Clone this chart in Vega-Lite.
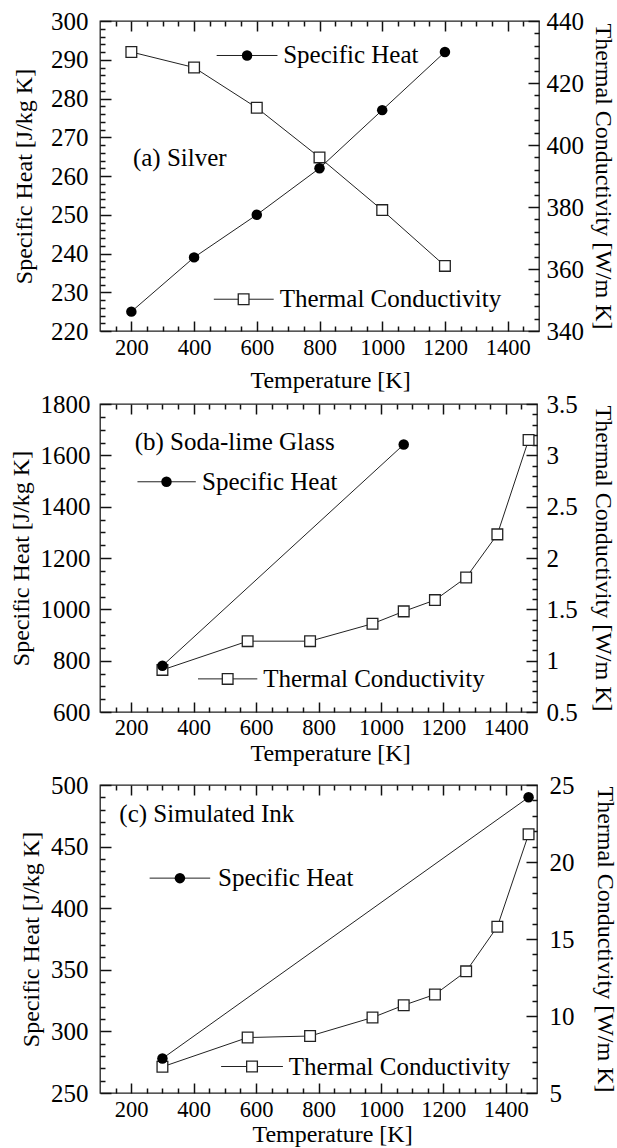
{
  "$schema": "https://vega.github.io/schema/vega-lite/v6.json",
  "background": "white",
  "padding": {"top": 8, "left": 8, "right": 0, "bottom": 0},
  "bounds": "flush",
  "spacing": 73,
  "config": {
    "font": "Liberation Serif",
    "view": {"stroke": "#222", "strokeWidth": 1.3},
    "axis": {
      "grid": false, "domain": false, "ticks": true,
      "tickColor": "#111", "tickWidth": 1.5, "tickOpacity": 1,
      "labelFont": "Liberation Serif", "labelFontSize": 22.5, "labelColor": "#000",
      "titleFont": "Liberation Serif", "titleFontSize": 24, "titleFontWeight": "normal", "titleColor": "#000",
      "labelFlush": false, "labelOverlap": false, "labelBound": false
    },
    "axisY": {"labelFontSize": 25},
    "text": {"font": "Liberation Serif", "fontSize": 25, "color": "#000", "align": "left", "baseline": "middle"}
  },
  "datasets": {
    "silverCp": [{"T":200,"v":225},{"T":400,"v":239},{"T":600,"v":250},{"T":800,"v":262},{"T":1000,"v":277},{"T":1200,"v":292}],
    "silverK": [{"T":200,"v":430},{"T":400,"v":425},{"T":600,"v":412},{"T":800,"v":396},{"T":1000,"v":379},{"T":1200,"v":361}],
    "silverKeys": [
      {"key":"cp","name":"Specific Heat","t0":472,"t1":666,"tm":569,"tt":684,"y":291.1},
      {"key":"k","name":"Thermal Conductivity","t0":463,"t1":654,"tm":558,"tt":673,"y":228.2}
    ],
    "silverTag": [{"name":"(a) Silver","tt":205,"y":264.7}],
    "glassCp": [{"T":300,"v":780},{"T":1073,"v":1642}],
    "glassK": [{"T":300,"v":0.91},{"T":573,"v":1.19},{"T":773,"v":1.19},{"T":973,"v":1.36},{"T":1073,"v":1.48},{"T":1173,"v":1.59},{"T":1273,"v":1.81},{"T":1373,"v":2.23},{"T":1473,"v":3.15}],
    "glassKeys": [
      {"key":"cp","name":"Specific Heat","t0":220,"t1":407,"tm":313,"tt":427,"y":1497},
      {"key":"k","name":"Thermal Conductivity","t0":414,"t1":604,"tm":509,"tt":623,"y":729}
    ],
    "glassTag": [{"name":"(b) Soda-lime Glass","tt":211,"y":1653}],
    "inkCp": [{"T":300,"v":278},{"T":1473,"v":490}],
    "inkK": [{"T":300,"v":6.7},{"T":573,"v":8.6},{"T":773,"v":8.7},{"T":973,"v":9.9},{"T":1073,"v":10.7},{"T":1173,"v":11.4},{"T":1273,"v":12.9},{"T":1373,"v":15.8},{"T":1473,"v":21.8}],
    "inkKeys": [
      {"key":"cp","name":"Specific Heat","t0":259,"t1":453,"tm":356,"tt":478,"y":424.4},
      {"key":"k","name":"Thermal Conductivity","t0":488,"t1":686,"tm":587,"tt":705,"y":271.5}
    ],
    "inkTag": [{"name":"(c) Simulated Ink","tt":162,"y":476.3}]
  },
  "vconcat": [
    {
      "width": 439, "height": 310,
      "layer": [
        {
          "layer": [
            {
              "data": {"name": "silverK"},
              "mark": {"type": "line", "color": "#222", "strokeWidth": 1},
              "encoding": {
                "x": {"field": "T", "type": "quantitative", "scale": {"domain": [100, 1500], "nice": false, "zero": false}, "axis": null},
                "y": {"field": "v", "type": "quantitative", "scale": {"domain": [340, 440], "nice": false, "zero": false},
                  "axis": {"orient": "right", "values": [340, 360, 380, 400, 420, 440], "format": "d", "offset": -11, "tickSize": 11, "labelPadding": 7, "title": "Thermal Conductivity [W/m K]", "titlePadding": 7}}
              }
            },
            {
              "data": {"name": "silverK"},
              "mark": {"type": "point", "shape": "square", "size": 115, "filled": false, "fill": "white", "fillOpacity": 1, "stroke": "#222", "strokeWidth": 1.3, "opacity": 1},
              "encoding": {
                "x": {"field": "T", "type": "quantitative", "scale": {"domain": [100, 1500], "nice": false, "zero": false}, "axis": null},
                "y": {"field": "v", "type": "quantitative", "scale": {"domain": [340, 440], "nice": false, "zero": false},
                  "axis": {"orient": "right", "values": [344,348,352,356,364,368,372,376,384,388,392,396,404,408,412,416,424,428,432,436], "labels": false, "offset": -5, "tickSize": 5, "title": null}}
              }
            }
          ],
          "resolve": {"axis": {"x": "independent", "y": "independent"}}
        },
        {
          "layer": [
            {
              "data": {"name": "silverCp"},
              "mark": {"type": "line", "color": "#222", "strokeWidth": 1},
              "encoding": {
                "x": {"field": "T", "type": "quantitative", "scale": {"domain": [100, 1500], "nice": false, "zero": false},
                  "axis": {"orient": "bottom", "values": [200, 400, 600, 800, 1000, 1200, 1400], "format": "d", "offset": -10, "tickSize": 10, "labelPadding": 5, "title": "Temperature [K]", "titlePadding": 10, "titleX": 230}},
                "y": {"field": "v", "type": "quantitative", "scale": {"domain": [220, 300], "nice": false, "zero": false},
                  "axis": {"orient": "left", "values": [220, 230, 240, 250, 260, 270, 280, 290, 300], "format": "d", "offset": -11, "tickSize": 11, "labelPadding": 12, "title": "Specific Heat [J/kg K]", "titlePadding": 14}}
              }
            },
            {
              "data": {"name": "silverCp"},
              "mark": {"type": "point", "shape": "circle", "size": 110, "filled": true, "color": "#000", "opacity": 1},
              "encoding": {
                "x": {"field": "T", "type": "quantitative", "scale": {"domain": [100, 1500], "nice": false, "zero": false},
                  "axis": {"orient": "bottom", "values": [150,250,300,350,450,500,550,650,700,750,850,900,950,1050,1100,1150,1250,1300,1350,1450], "labels": false, "offset": -5, "tickSize": 5, "title": null}},
                "y": {"field": "v", "type": "quantitative", "scale": {"domain": [220, 300], "nice": false, "zero": false},
                  "axis": {"orient": "left", "values": [222,224,226,228,232,234,236,238,242,244,246,248,252,254,256,258,262,264,266,268,272,274,276,278,282,284,286,288,292,294,296,298], "labels": false, "offset": -5, "tickSize": 5, "title": null}}
              }
            },
            {
              "data": {"name": "silverKeys"},
              "mark": {"type": "rule", "color": "#222", "strokeWidth": 1},
              "encoding": {
                "x": {"field": "t0", "type": "quantitative", "scale": {"domain": [100, 1500], "nice": false, "zero": false},
                  "axis": {"orient": "top", "values": [200, 400, 600, 800, 1000, 1200, 1400], "labels": false, "offset": -10, "tickSize": 10, "title": null}},
                "x2": {"field": "t1"},
                "y": {"field": "y", "type": "quantitative", "scale": {"domain": [220, 300], "nice": false, "zero": false}, "axis": null}
              }
            },
            {
              "data": {"name": "silverKeys"},
              "transform": [{"filter": "datum.key === 'cp'"}],
              "mark": {"type": "point", "shape": "circle", "size": 110, "filled": true, "color": "#000", "opacity": 1},
              "encoding": {
                "x": {"field": "tm", "type": "quantitative", "scale": {"domain": [100, 1500], "nice": false, "zero": false},
                  "axis": {"orient": "top", "values": [150,250,300,350,450,500,550,650,700,750,850,900,950,1050,1100,1150,1250,1300,1350,1450], "labels": false, "offset": -5, "tickSize": 5, "title": null}},
                "y": {"field": "y", "type": "quantitative", "scale": {"domain": [220, 300], "nice": false, "zero": false}, "axis": null}
              }
            },
            {
              "data": {"name": "silverKeys"},
              "transform": [{"filter": "datum.key === 'k'"}],
              "mark": {"type": "point", "shape": "square", "size": 115, "filled": false, "fill": "white", "fillOpacity": 1, "stroke": "#222", "strokeWidth": 1.3, "opacity": 1},
              "encoding": {
                "x": {"field": "tm", "type": "quantitative", "scale": {"domain": [100, 1500], "nice": false, "zero": false}, "axis": null},
                "y": {"field": "y", "type": "quantitative", "scale": {"domain": [220, 300], "nice": false, "zero": false}, "axis": null}
              }
            },
            {
              "data": {"name": "silverKeys"},
              "mark": {"type": "text"},
              "encoding": {
                "x": {"field": "tt", "type": "quantitative", "scale": {"domain": [100, 1500], "nice": false, "zero": false}, "axis": null},
                "y": {"field": "y", "type": "quantitative", "scale": {"domain": [220, 300], "nice": false, "zero": false}, "axis": null},
                "text": {"field": "name"}
              }
            },
            {
              "data": {"name": "silverTag"},
              "mark": {"type": "text"},
              "encoding": {
                "x": {"field": "tt", "type": "quantitative", "scale": {"domain": [100, 1500], "nice": false, "zero": false}, "axis": null},
                "y": {"field": "y", "type": "quantitative", "scale": {"domain": [220, 300], "nice": false, "zero": false}, "axis": null},
                "text": {"field": "name"}
              }
            }
          ],
          "resolve": {"axis": {"x": "independent", "y": "independent"}}
        }
      ],
      "resolve": {"scale": {"y": "independent"}, "axis": {"x": "independent", "y": "independent"}}
    },
    {
      "width": 437, "height": 308,
      "layer": [
        {
          "layer": [
            {
              "data": {"name": "glassK"},
              "mark": {"type": "line", "color": "#222", "strokeWidth": 1},
              "encoding": {
                "x": {"field": "T", "type": "quantitative", "scale": {"domain": [100, 1500], "nice": false, "zero": false}, "axis": null},
                "y": {"field": "v", "type": "quantitative", "scale": {"domain": [0.5, 3.5], "nice": false, "zero": false},
                  "axis": {"orient": "right", "values": [0.5, 1, 1.5, 2, 2.5, 3, 3.5], "format": "~g", "offset": -11, "tickSize": 11, "labelPadding": 9, "title": "Thermal Conductivity [W/m K]", "titlePadding": 13}}
              }
            },
            {
              "data": {"name": "glassK"},
              "mark": {"type": "point", "shape": "square", "size": 115, "filled": false, "fill": "white", "fillOpacity": 1, "stroke": "#222", "strokeWidth": 1.3, "opacity": 1},
              "encoding": {
                "x": {"field": "T", "type": "quantitative", "scale": {"domain": [100, 1500], "nice": false, "zero": false}, "axis": null},
                "y": {"field": "v", "type": "quantitative", "scale": {"domain": [0.5, 3.5], "nice": false, "zero": false},
                  "axis": {"orient": "right", "values": [0.6,0.7,0.8,0.9,1.1,1.2,1.3,1.4,1.6,1.7,1.8,1.9,2.1,2.2,2.3,2.4,2.6,2.7,2.8,2.9,3.1,3.2,3.3,3.4], "labels": false, "offset": -5, "tickSize": 5, "title": null}}
              }
            }
          ],
          "resolve": {"axis": {"x": "independent", "y": "independent"}}
        },
        {
          "layer": [
            {
              "data": {"name": "glassCp"},
              "mark": {"type": "line", "color": "#222", "strokeWidth": 1},
              "encoding": {
                "x": {"field": "T", "type": "quantitative", "scale": {"domain": [100, 1500], "nice": false, "zero": false},
                  "axis": {"orient": "bottom", "values": [200, 400, 600, 800, 1000, 1200, 1400], "format": "d", "offset": -10, "tickSize": 10, "labelPadding": 4, "title": "Temperature [K]", "titlePadding": 3, "titleX": 230}},
                "y": {"field": "v", "type": "quantitative", "scale": {"domain": [600, 1800], "nice": false, "zero": false},
                  "axis": {"orient": "left", "values": [600, 800, 1000, 1200, 1400, 1600, 1800], "format": "d", "offset": -11, "tickSize": 11, "labelPadding": 10, "title": "Specific Heat [J/kg K]", "titlePadding": 7}}
              }
            },
            {
              "data": {"name": "glassCp"},
              "mark": {"type": "point", "shape": "circle", "size": 110, "filled": true, "color": "#000", "opacity": 1},
              "encoding": {
                "x": {"field": "T", "type": "quantitative", "scale": {"domain": [100, 1500], "nice": false, "zero": false},
                  "axis": {"orient": "bottom", "values": [150,250,300,350,450,500,550,650,700,750,850,900,950,1050,1100,1150,1250,1300,1350,1450], "labels": false, "offset": -5, "tickSize": 5, "title": null}},
                "y": {"field": "v", "type": "quantitative", "scale": {"domain": [600, 1800], "nice": false, "zero": false},
                  "axis": {"orient": "left", "values": [650,700,750,850,900,950,1050,1100,1150,1250,1300,1350,1450,1500,1550,1650,1700,1750], "labels": false, "offset": -5, "tickSize": 5, "title": null}}
              }
            },
            {
              "data": {"name": "glassKeys"},
              "mark": {"type": "rule", "color": "#222", "strokeWidth": 1},
              "encoding": {
                "x": {"field": "t0", "type": "quantitative", "scale": {"domain": [100, 1500], "nice": false, "zero": false},
                  "axis": {"orient": "top", "values": [200, 400, 600, 800, 1000, 1200, 1400], "labels": false, "offset": -10, "tickSize": 10, "title": null}},
                "x2": {"field": "t1"},
                "y": {"field": "y", "type": "quantitative", "scale": {"domain": [600, 1800], "nice": false, "zero": false}, "axis": null}
              }
            },
            {
              "data": {"name": "glassKeys"},
              "transform": [{"filter": "datum.key === 'cp'"}],
              "mark": {"type": "point", "shape": "circle", "size": 110, "filled": true, "color": "#000", "opacity": 1},
              "encoding": {
                "x": {"field": "tm", "type": "quantitative", "scale": {"domain": [100, 1500], "nice": false, "zero": false},
                  "axis": {"orient": "top", "values": [150,250,300,350,450,500,550,650,700,750,850,900,950,1050,1100,1150,1250,1300,1350,1450], "labels": false, "offset": -5, "tickSize": 5, "title": null}},
                "y": {"field": "y", "type": "quantitative", "scale": {"domain": [600, 1800], "nice": false, "zero": false}, "axis": null}
              }
            },
            {
              "data": {"name": "glassKeys"},
              "transform": [{"filter": "datum.key === 'k'"}],
              "mark": {"type": "point", "shape": "square", "size": 115, "filled": false, "fill": "white", "fillOpacity": 1, "stroke": "#222", "strokeWidth": 1.3, "opacity": 1},
              "encoding": {
                "x": {"field": "tm", "type": "quantitative", "scale": {"domain": [100, 1500], "nice": false, "zero": false}, "axis": null},
                "y": {"field": "y", "type": "quantitative", "scale": {"domain": [600, 1800], "nice": false, "zero": false}, "axis": null}
              }
            },
            {
              "data": {"name": "glassKeys"},
              "mark": {"type": "text"},
              "encoding": {
                "x": {"field": "tt", "type": "quantitative", "scale": {"domain": [100, 1500], "nice": false, "zero": false}, "axis": null},
                "y": {"field": "y", "type": "quantitative", "scale": {"domain": [600, 1800], "nice": false, "zero": false}, "axis": null},
                "text": {"field": "name"}
              }
            },
            {
              "data": {"name": "glassTag"},
              "mark": {"type": "text"},
              "encoding": {
                "x": {"field": "tt", "type": "quantitative", "scale": {"domain": [100, 1500], "nice": false, "zero": false}, "axis": null},
                "y": {"field": "y", "type": "quantitative", "scale": {"domain": [600, 1800], "nice": false, "zero": false}, "axis": null},
                "text": {"field": "name"}
              }
            }
          ],
          "resolve": {"axis": {"x": "independent", "y": "independent"}}
        }
      ],
      "resolve": {"scale": {"y": "independent"}, "axis": {"x": "independent", "y": "independent"}}
    },
    {
      "width": 437, "height": 308,
      "layer": [
        {
          "layer": [
            {
              "data": {"name": "inkK"},
              "mark": {"type": "line", "color": "#222", "strokeWidth": 1},
              "encoding": {
                "x": {"field": "T", "type": "quantitative", "scale": {"domain": [100, 1500], "nice": false, "zero": false}, "axis": null},
                "y": {"field": "v", "type": "quantitative", "scale": {"domain": [5, 25], "nice": false, "zero": false},
                  "axis": {"orient": "right", "values": [5, 10, 15, 20, 25], "format": "d", "offset": -11, "tickSize": 11, "labelPadding": 12, "title": "Thermal Conductivity [W/m K]", "titlePadding": 18}}
              }
            },
            {
              "data": {"name": "inkK"},
              "mark": {"type": "point", "shape": "square", "size": 115, "filled": false, "fill": "white", "fillOpacity": 1, "stroke": "#222", "strokeWidth": 1.3, "opacity": 1},
              "encoding": {
                "x": {"field": "T", "type": "quantitative", "scale": {"domain": [100, 1500], "nice": false, "zero": false}, "axis": null},
                "y": {"field": "v", "type": "quantitative", "scale": {"domain": [5, 25], "nice": false, "zero": false},
                  "axis": {"orient": "right", "values": [6,7,8,9,11,12,13,14,16,17,18,19,21,22,23,24], "labels": false, "offset": -5, "tickSize": 5, "title": null}}
              }
            }
          ],
          "resolve": {"axis": {"x": "independent", "y": "independent"}}
        },
        {
          "layer": [
            {
              "data": {"name": "inkCp"},
              "mark": {"type": "line", "color": "#222", "strokeWidth": 1},
              "encoding": {
                "x": {"field": "T", "type": "quantitative", "scale": {"domain": [100, 1500], "nice": false, "zero": false},
                  "axis": {"orient": "bottom", "values": [200, 400, 600, 800, 1000, 1200, 1400], "format": "d", "offset": -10, "tickSize": 10, "labelPadding": 5, "title": "Temperature [K]", "titlePadding": 2, "titleX": 232}},
                "y": {"field": "v", "type": "quantitative", "scale": {"domain": [250, 500], "nice": false, "zero": false},
                  "axis": {"orient": "left", "values": [250, 300, 350, 400, 450, 500], "format": "d", "offset": -11, "tickSize": 11, "labelPadding": 12, "title": "Specific Heat [J/kg K]", "titlePadding": 7}}
              }
            },
            {
              "data": {"name": "inkCp"},
              "mark": {"type": "point", "shape": "circle", "size": 110, "filled": true, "color": "#000", "opacity": 1},
              "encoding": {
                "x": {"field": "T", "type": "quantitative", "scale": {"domain": [100, 1500], "nice": false, "zero": false},
                  "axis": {"orient": "bottom", "values": [150,250,300,350,450,500,550,650,700,750,850,900,950,1050,1100,1150,1250,1300,1350,1450], "labels": false, "offset": -5, "tickSize": 5, "title": null}},
                "y": {"field": "v", "type": "quantitative", "scale": {"domain": [250, 500], "nice": false, "zero": false},
                  "axis": {"orient": "left", "values": [260,270,280,290,310,320,330,340,360,370,380,390,410,420,430,440,460,470,480,490], "labels": false, "offset": -5, "tickSize": 5, "title": null}}
              }
            },
            {
              "data": {"name": "inkKeys"},
              "mark": {"type": "rule", "color": "#222", "strokeWidth": 1},
              "encoding": {
                "x": {"field": "t0", "type": "quantitative", "scale": {"domain": [100, 1500], "nice": false, "zero": false},
                  "axis": {"orient": "top", "values": [200, 400, 600, 800, 1000, 1200, 1400], "labels": false, "offset": -10, "tickSize": 10, "title": null}},
                "x2": {"field": "t1"},
                "y": {"field": "y", "type": "quantitative", "scale": {"domain": [250, 500], "nice": false, "zero": false}, "axis": null}
              }
            },
            {
              "data": {"name": "inkKeys"},
              "transform": [{"filter": "datum.key === 'cp'"}],
              "mark": {"type": "point", "shape": "circle", "size": 110, "filled": true, "color": "#000", "opacity": 1},
              "encoding": {
                "x": {"field": "tm", "type": "quantitative", "scale": {"domain": [100, 1500], "nice": false, "zero": false},
                  "axis": {"orient": "top", "values": [150,250,300,350,450,500,550,650,700,750,850,900,950,1050,1100,1150,1250,1300,1350,1450], "labels": false, "offset": -5, "tickSize": 5, "title": null}},
                "y": {"field": "y", "type": "quantitative", "scale": {"domain": [250, 500], "nice": false, "zero": false}, "axis": null}
              }
            },
            {
              "data": {"name": "inkKeys"},
              "transform": [{"filter": "datum.key === 'k'"}],
              "mark": {"type": "point", "shape": "square", "size": 115, "filled": false, "fill": "white", "fillOpacity": 1, "stroke": "#222", "strokeWidth": 1.3, "opacity": 1},
              "encoding": {
                "x": {"field": "tm", "type": "quantitative", "scale": {"domain": [100, 1500], "nice": false, "zero": false}, "axis": null},
                "y": {"field": "y", "type": "quantitative", "scale": {"domain": [250, 500], "nice": false, "zero": false}, "axis": null}
              }
            },
            {
              "data": {"name": "inkKeys"},
              "mark": {"type": "text"},
              "encoding": {
                "x": {"field": "tt", "type": "quantitative", "scale": {"domain": [100, 1500], "nice": false, "zero": false}, "axis": null},
                "y": {"field": "y", "type": "quantitative", "scale": {"domain": [250, 500], "nice": false, "zero": false}, "axis": null},
                "text": {"field": "name"}
              }
            },
            {
              "data": {"name": "inkTag"},
              "mark": {"type": "text"},
              "encoding": {
                "x": {"field": "tt", "type": "quantitative", "scale": {"domain": [100, 1500], "nice": false, "zero": false}, "axis": null},
                "y": {"field": "y", "type": "quantitative", "scale": {"domain": [250, 500], "nice": false, "zero": false}, "axis": null},
                "text": {"field": "name"}
              }
            }
          ],
          "resolve": {"axis": {"x": "independent", "y": "independent"}}
        }
      ],
      "resolve": {"scale": {"y": "independent"}, "axis": {"x": "independent", "y": "independent"}}
    }
  ]
}
